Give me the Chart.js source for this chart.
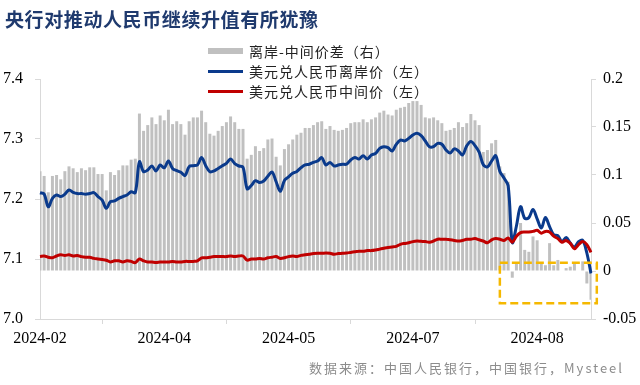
<!DOCTYPE html>
<html><head><meta charset="utf-8">
<script src="https://cdn.jsdelivr.net/npm/chart.js@4.4.1/dist/chart.umd.min.js"></script>
<style>
html,body{margin:0;padding:0;background:#fff;}
#wrap{position:relative;width:640px;height:385px;overflow:hidden;background:#fff;}
#c{position:absolute;left:0;top:0;}
.title{position:absolute;left:5px;top:5px;font-weight:bold;font-size:19px;font-family:"Noto Sans CJK SC";color:#1F3A6E;letter-spacing:0.6px;white-space:nowrap;}
.legend{position:absolute;left:208px;top:41px;font-size:14px;font-family:"Noto Sans CJK SC";color:#222;}
.row{height:20px;display:flex;align-items:center;white-space:nowrap;letter-spacing:1px;}
.sw{width:35px;margin-right:6px;}
.source{position:absolute;right:16px;top:358px;font-size:13px;font-family:"Noto Sans CJK SC";color:#8c8c8c;letter-spacing:2px;white-space:nowrap;}
</style>
</head><body>
<div id="wrap">
<canvas id="c" width="640" height="385"></canvas>
<div class="title">央行对推动人民币继续升值有所犹豫</div>
<div class="legend">
 <div class="row"><span class="sw" style="height:6px;background:#C0C0C0"></span>离岸-中间价差（右）</div>
 <div class="row"><span class="sw" style="height:3px;background:#0A3A8C"></span>美元兑人民币离岸价（左）</div>
 <div class="row"><span class="sw" style="height:3px;background:#C00000"></span>美元兑人民币中间价（左）</div>
</div>
<div class="source">数据来源：中国人民银行，中国银行，Mysteel</div>
</div>
<script>
// USD/CNH offshore (left axis)
const offshore = [
7.2105,7.2083,7.187,7.201,7.2067,7.204,7.208,7.215,7.211,7.209,7.209,7.208,7.209,7.2105,7.204,7.198,7.1845,7.1955,7.1967,7.201,7.204,7.2067,7.212,7.2105,
7.262,7.2455,7.2483,7.255,7.2467,7.2567,7.252,7.2633,7.251,7.2472,7.2445,7.239,7.254,7.2555,7.2567,7.269,7.2555,7.2455,7.2467,7.251,7.2555,7.2595,7.2667,7.259,7.255,7.253,
7.217,7.2225,7.2305,7.2275,7.230,7.238,7.245,7.2288,7.2128,7.231,7.237,7.2428,7.246,7.2522,7.2567,7.258,7.261,7.2633,7.269,7.2567,7.261,7.255,7.2567,7.258,7.258,7.265,7.269,7.2667,
7.2722,7.2667,7.2733,7.276,7.2845,7.2872,7.2855,7.28,7.2912,7.2983,7.2967,7.301,7.3067,7.3095,7.3055,7.2967,7.2872,7.2872,7.2928,7.2912,7.2817,7.2765,7.2835,7.28,7.2733,7.2885,
7.296,7.289,7.278,7.257,7.2535,7.263,7.272,7.246,7.235,7.222,7.1275,7.155,7.1872,7.1678,7.169,7.1825,7.167,7.1515,7.169,7.154,7.1405,7.139,7.1288,7.136,7.1265,7.12,7.1288,7.131,7.11,7.076
];
// USD/CNY central parity (left axis)
const central = [
7.104,7.105,7.103,7.102,7.105,7.107,7.106,7.107,7.105,7.106,7.104,7.103,7.103,7.101,7.100,7.099,7.098,7.095,7.097,7.097,7.095,7.097,7.096,7.094,7.100,7.097,7.095,7.095,7.094,7.095,7.095,7.095,7.096,
7.095,7.095,7.096,7.096,7.096,7.097,7.102,7.102,7.103,7.104,7.104,7.104,7.104,7.105,7.104,7.105,7.105,7.098,7.100,7.100,7.101,7.100,7.102,7.103,7.104,7.101,7.102,7.104,7.105,7.104,7.106,7.107,7.108,
7.109,7.1095,7.1095,7.110,7.1095,7.108,7.109,7.1095,7.110,7.111,7.112,7.113,7.113,7.114,7.114,7.115,7.1165,7.118,7.119,7.120,7.121,7.1245,7.126,7.127,7.129,7.130,7.1295,7.129,7.128,7.130,7.133,7.133,7.133,
7.132,7.131,7.130,7.131,7.133,7.133,7.134,7.132,7.130,7.127,7.132,7.134,7.133,7.131,7.135,7.128,7.138,7.144,7.145,7.145,7.146,7.148,7.143,7.146,7.145,7.138,7.134,7.128,7.131,7.126,7.117,7.124,7.129,7.124,7.111
];
// offshore minus central parity (right axis)
const spread = [
0.104,0.099,0.082,0.099,0.100,0.0955,0.104,0.109,0.107,0.103,0.107,0.105,0.108,0.108,0.101,0.101,0.084,0.103,0.100,0.105,0.110,0.110,0.116,0.117,0.164,0.146,0.152,0.160,0.153,0.162,0.157,0.168,0.153,
0.156,0.153,0.142,0.156,0.160,0.160,0.167,0.155,0.143,0.141,0.146,0.151,0.155,0.161,0.155,0.148,0.148,0.117,0.121,0.130,0.125,0.128,0.137,0.138,0.119,0.110,0.127,0.132,0.137,0.142,0.144,0.149,0.149,
0.152,0.155,0.156,0.148,0.151,0.147,0.146,0.147,0.149,0.154,0.155,0.155,0.158,0.155,0.158,0.160,0.165,0.167,0.163,0.162,0.168,0.170,
0.171,0.175,0.177,0.177,0.173,0.160,0.159,0.160,0.157,0.154,0.146,0.147,0.149,0.155,0.150,0.154,0.1635,0.157,0.152,0.124,0.126,0.133,0.1365,0.109,0.102,0.093,
-0.007,0.008,0.050,0.022,0.020,0.036,0.032,0.008,0.006,0.029,0.006,0.0115,0.000,0.003,0.0045,0.008,0.000,0.010,-0.013,-0.030
];
const days = offshore.map((_, i) => i + 1);          // trading-day categories
const tickIndices = [0, 30, 60, 90, 120];
const tickLabels = ['2024-02', '2024-04', '2024-05', '2024-07', '2024-08'];
const leftTicks = {min: 7.0, max: 7.4, step: 0.1};
const rightTicks = {min: -0.05, max: 0.2, step: 0.05};
// highlighted region (category index range, right-axis value range)
const boxX = [111.0, 134.4];
const boxY = [0.0086, -0.0336];

const axisColor = '#D9D9D9';
const tickFont = {family: 'Liberation Serif', size: 16};

const boxPlugin = {
  id: 'box',
  afterDatasetsDraw(chart) {
    const {ctx, scales} = chart;
    const x0 = scales.x.getPixelForValue(boxX[0]), x1 = scales.x.getPixelForValue(boxX[1]);
    const y0 = scales.y1.getPixelForValue(boxY[0]), y1 = scales.y1.getPixelForValue(boxY[1]);
    ctx.save();
    ctx.strokeStyle = '#F5B800';
    ctx.lineWidth = 2.5;
    ctx.setLineDash([8, 4]);
    ctx.strokeRect(x0, y0, x1 - x0, y1 - y0);
    ctx.restore();
  }
};

new Chart(document.getElementById('c'), {
  data: {
    labels: days,
    datasets: [
      {type: 'bar', label: '离岸-中间价差（右）', data: spread, yAxisID: 'y1', backgroundColor: '#C0C0C0',
       barPercentage: 0.72, categoryPercentage: 1, order: 3},
      {type: 'line', label: '美元兑人民币离岸价（左）', data: offshore, yAxisID: 'y', borderColor: '#0A3A8C',
       borderWidth: 3, pointRadius: 0, tension: 0.35, order: 2},
      {type: 'line', label: '美元兑人民币中间价（左）', data: central, yAxisID: 'y', borderColor: '#C00000',
       borderWidth: 3, pointRadius: 0, tension: 0.35, order: 1}
    ]
  },
  options: {
    responsive: false, animation: false, devicePixelRatio: 1,
    layout: {padding: {top: 79, left: 0, right: 0, bottom: 0}},
    plugins: {legend: {display: false}, tooltip: {enabled: false}},
    scales: {
      x: {
        type: 'category', offset: false,
        grid: {display: true, drawOnChartArea: false, tickLength: 5, color: axisColor},
        border: {color: axisColor},
        ticks: {autoSkip: false, maxRotation: 0, padding: 5, font: tickFont, color: '#000',
          callback: (v) => { const k = tickIndices.indexOf(v); return k >= 0 ? tickLabels[k] : ''; }},
        afterBuildTicks: (s) => { s.ticks = s.ticks.filter(t => tickIndices.includes(t.value)); },
        afterFit: (s) => { s.height = 66; }
      },
      y: {
        position: 'left', min: leftTicks.min, max: leftTicks.max,
        grid: {drawOnChartArea: false, tickLength: 5, color: axisColor},
        border: {color: axisColor},
        ticks: {stepSize: leftTicks.step, padding: 12, font: tickFont, color: '#000',
          callback: (v) => v.toFixed(1)},
        afterFit: (s) => { s.width = 40; }
      },
      y1: {
        position: 'right', min: rightTicks.min, max: rightTicks.max,
        grid: {drawOnChartArea: false, tickLength: 5, color: axisColor},
        border: {color: axisColor},
        ticks: {stepSize: rightTicks.step, padding: 7, font: tickFont, color: '#000',
          callback: (v) => String(+v.toFixed(2))},
        afterFit: (s) => { s.width = 49; }
      }
    }
  },
  plugins: [boxPlugin]
});
</script>
</body></html>
